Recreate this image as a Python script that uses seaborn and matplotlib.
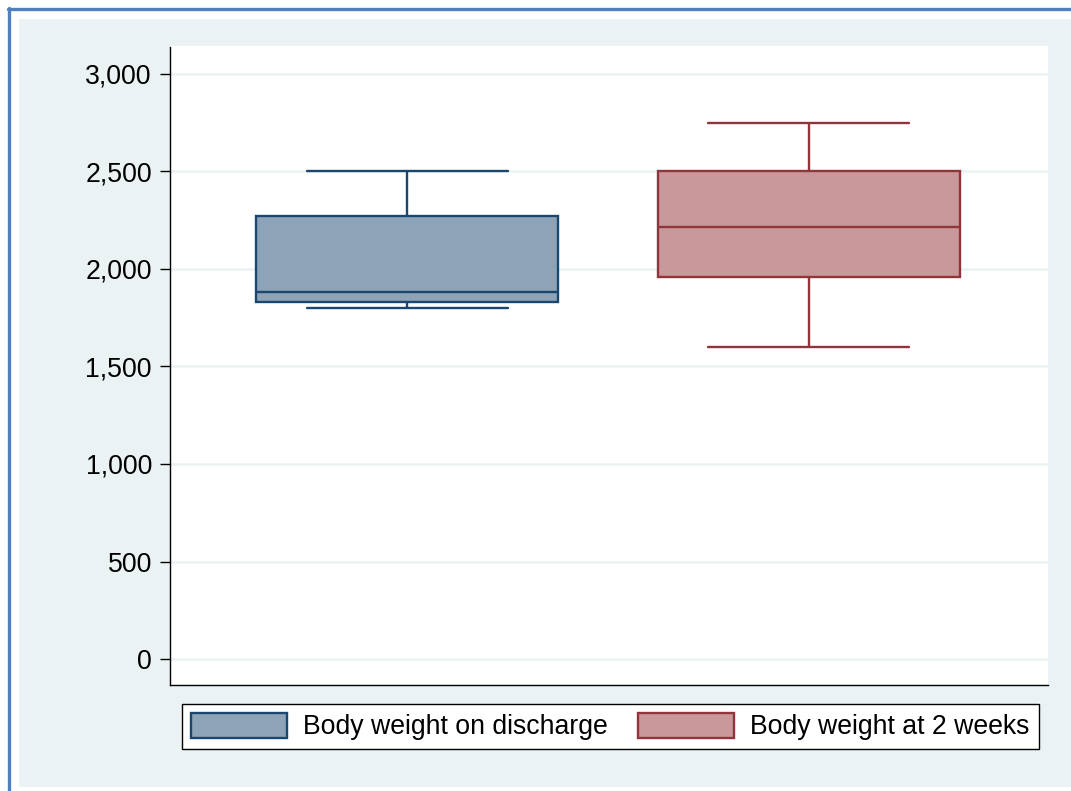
import numpy as np
import pandas as pd
import matplotlib
matplotlib.use("Agg")
import matplotlib.pyplot as plt
from matplotlib.patches import Rectangle, Patch
from matplotlib.lines import Line2D
from matplotlib.ticker import FuncFormatter
import seaborn as sns

# Five-number summaries (min, Q1, median, Q3, max) in grams
groups = ["Body weight on discharge", "Body weight at 2 weeks"]
discharge_summary = [1800, 1830, 1880, 2270, 2500]
two_weeks_summary = [1600, 1960, 2215, 2500, 2750]
y_ticks = [0, 500, 1000, 1500, 2000, 2500, 3000]

edge_colors = ["#1a476f", "#90353b"]
fill_colors = ["#8da3b7", "#c8989b"]
bg_color = "#eaf2f3"

df = pd.DataFrame({
    "group": [groups[0]] * len(discharge_summary) + [groups[1]] * len(two_weeks_summary),
    "weight": discharge_summary + two_weeks_summary,
})

sns.set_theme(style="white")
plt.rcParams["font.family"] = ["Liberation Sans", "DejaVu Sans"]
plt.rcParams["text.color"] = "black"

W, H = 1071, 791
fig = plt.figure(figsize=(W / 100, H / 100), dpi=100, facecolor="white")

# Outer frame: light graph region with a blue border line on top and left
fig.patches.append(Rectangle((19 / W, 4 / H), 1, 1 - 23 / H, transform=fig.transFigure,
                             facecolor=bg_color, edgecolor="none", zorder=-10))
fig.lines.append(Line2D([8 / W, 1], [1 - 9 / H, 1 - 9 / H], transform=fig.transFigure,
                        color="#4f7fbf", linewidth=2.4))
fig.lines.append(Line2D([9 / W, 9 / W], [0, 1 - 8 / H], transform=fig.transFigure,
                        color="#4f7fbf", linewidth=2.4))

ax = fig.add_axes([170 / W, 1 - 685 / H, (1048 - 170) / W, (685 - 46.5) / H])
ax.set_facecolor("white")

sns.boxplot(
    data=df, x="group", y="weight", hue="group", order=groups, hue_order=groups,
    palette=dict(zip(groups, fill_colors)), whis=(0, 100), width=0.75,
    linewidth=1.7, showfliers=False, legend=False, ax=ax, capwidths=0.5,
)

# Outline each box in its own darker colour
n_lines_per_box = len(ax.lines) // 2
for i, patch in enumerate(ax.patches[:2]):
    patch.set_facecolor(fill_colors[i])
    patch.set_edgecolor(edge_colors[i])
    patch.set_linewidth(1.7)
for i in range(2):
    for ln in ax.lines[i * n_lines_per_box:(i + 1) * n_lines_per_box]:
        ln.set_color(edge_colors[i])
        ln.set_linewidth(1.7)

ax.set_xlim(-0.59, 1.595)
ax.set_ylim(-133, 3140)
ax.set_yticks(y_ticks)
ax.yaxis.set_major_formatter(FuncFormatter(lambda v, p: f"{v:,.0f}"))
ax.set_xticks([])
ax.set_xlabel("")
ax.set_ylabel("")
ax.grid(axis="y", color=bg_color, linewidth=1.8, zorder=0)
ax.set_axisbelow(True)

ax.tick_params(axis="y", left=True, length=7.5, width=1.0, pad=5.5,
               labelsize=19.2, colors="black", direction="out")
for side in ["top", "right"]:
    ax.spines[side].set_visible(False)
for side in ["left", "bottom"]:
    ax.spines[side].set_color("black")
    ax.spines[side].set_linewidth(1.0)

handles = [Patch(facecolor=fill_colors[i], edgecolor=edge_colors[i], linewidth=1.7,
                 label=groups[i]) for i in range(2)]
leg = fig.legend(handles=handles, loc="center", bbox_to_anchor=(610.5 / W, 1 - 726.5 / H),
                 ncol=2, fontsize=19.2, frameon=True, fancybox=False,
                 handlelength=3.6, handleheight=1.05, handletextpad=0.6,
                 columnspacing=1.13, borderpad=0.34)
for t in leg.get_texts():
    t.set_color("black")
leg.get_frame().set_edgecolor("black")
leg.get_frame().set_linewidth(1.0)
leg.get_frame().set_facecolor("white")
leg.get_frame().set_alpha(1)

fig.savefig("out.png", dpi=100, facecolor="white")
